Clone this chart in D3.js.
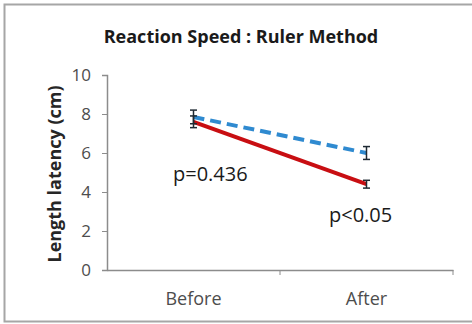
<!DOCTYPE html>
<html>
<head>
<meta charset="UTF-8">
<script src="https://cdn.jsdelivr.net/npm/d3@7"></script>
<style>
  body { margin: 0; background: #fff; }
  text { font-family: "Open Sans", "Liberation Sans", sans-serif; }
</style>
</head>
<body>
<div id="chart"></div>
<script>
// data
var categories = ["Before", "After"];
var yTicks = [0, 2, 4, 6, 8, 10];
var blueValues = [7.85, 6.0];
var blueErrors = [0.35, 0.33];
var redValues = [7.6, 4.4];
var redErrors = [0.3, 0.2];
var pLabels = ["p=0.436", "p<0.05"];

var width = 472, height = 324;
var margin = {top: 75, right: 19, bottom: 54, left: 107};

var svg = d3.select("#chart").append("svg")
  .attr("width", width)
  .attr("height", height);

// outer frame
svg.append("rect")
  .attr("x", 4.5).attr("y", 4.5)
  .attr("width", width + 10).attr("height", 317)
  .attr("fill", "#fff")
  .attr("stroke", "#a6a6a6")
  .attr("stroke-width", 2);

var x = d3.scaleBand().domain(categories)
  .range([margin.left, width - margin.right]);
var y = d3.scaleLinear().domain([0, 10])
  .range([height - margin.bottom, margin.top]);

// title
svg.append("text")
  .attr("x", 241).attr("y", 43)
  .attr("text-anchor", "middle")
  .attr("font-size", 18).attr("font-weight", "bold")
  .attr("fill", "#1a1a1a")
  .text("Reaction Speed : Ruler Method");

// y axis
var yAxis = svg.append("g")
  .attr("transform", "translate(" + margin.left + ",0)")
  .call(d3.axisLeft(y).tickValues(yTicks).tickSize(5).tickPadding(11));
// x axis
var xAxis = svg.append("g")
  .attr("transform", "translate(0," + (height - margin.bottom) + ")")
  .call(d3.axisBottom(x).tickSize(0).tickPadding(22));
// x tick marks at band edges
xAxis.selectAll(".edge")
  .data(categories.map(function(c) { return x(c) + x.bandwidth(); }))
  .enter().append("line")
  .attr("x1", function(d) { return d; }).attr("x2", function(d) { return d; })
  .attr("y1", 0).attr("y2", 5)
  .attr("stroke", "#8c8c8c");

[yAxis, xAxis].forEach(function(g) {
  g.selectAll("path.domain").attr("stroke", "#8c8c8c").attr("stroke-width", 1.5);
  g.selectAll(".tick line").attr("stroke", "#8c8c8c");
  g.selectAll("text").attr("fill", "#4d4d4d")
    .attr("font-family", "'Open Sans', 'Liberation Sans', sans-serif");
});
yAxis.selectAll("text").attr("font-size", 17);
xAxis.selectAll("text").attr("font-size", 18);

// y label
svg.append("text")
  .attr("transform", "translate(61," + 174 + ") rotate(-90)")
  .attr("text-anchor", "middle")
  .attr("font-size", 18).attr("font-weight", "bold")
  .attr("fill", "#262626")
  .text("Length latency (cm)");

var cx = function(i) { return x(categories[i]) + x.bandwidth() / 2; };
var line = d3.line()
  .x(function(d, i) { return cx(i); })
  .y(function(d) { return y(d); });

// red series
svg.append("path").datum(redValues)
  .attr("d", line)
  .attr("fill", "none")
  .attr("stroke", "#c80e12")
  .attr("stroke-width", 4);

// blue dashed series
svg.append("path").datum(blueValues)
  .attr("d", line)
  .attr("fill", "none")
  .attr("stroke", "#2f8ad0")
  .attr("stroke-width", 4)
  .attr("stroke-dasharray", "11,6");

// error bars
function errorBars(vals, errs) {
  var g = svg.append("g").attr("stroke", "#1f2a33").attr("stroke-width", 1.5);
  vals.forEach(function(v, i) {
    var top = y(v + errs[i]), bot = y(v - errs[i]), c = cx(i);
    g.append("line").attr("x1", c).attr("x2", c).attr("y1", top).attr("y2", bot);
    g.append("line").attr("x1", c - 3.5).attr("x2", c + 3.5).attr("y1", top).attr("y2", top);
    g.append("line").attr("x1", c - 3.5).attr("x2", c + 3.5).attr("y1", bot).attr("y2", bot);
  });
}
errorBars(redValues, redErrors);
errorBars(blueValues, blueErrors);

// p-value labels
svg.append("text").attr("x", 173).attr("y", 181)
  .attr("font-size", 20).attr("fill", "#1a1a1a").text(pLabels[0]);
svg.append("text").attr("x", 329).attr("y", 222)
  .attr("font-size", 20).attr("fill", "#1a1a1a").text(pLabels[1]);
</script>
</body>
</html>
